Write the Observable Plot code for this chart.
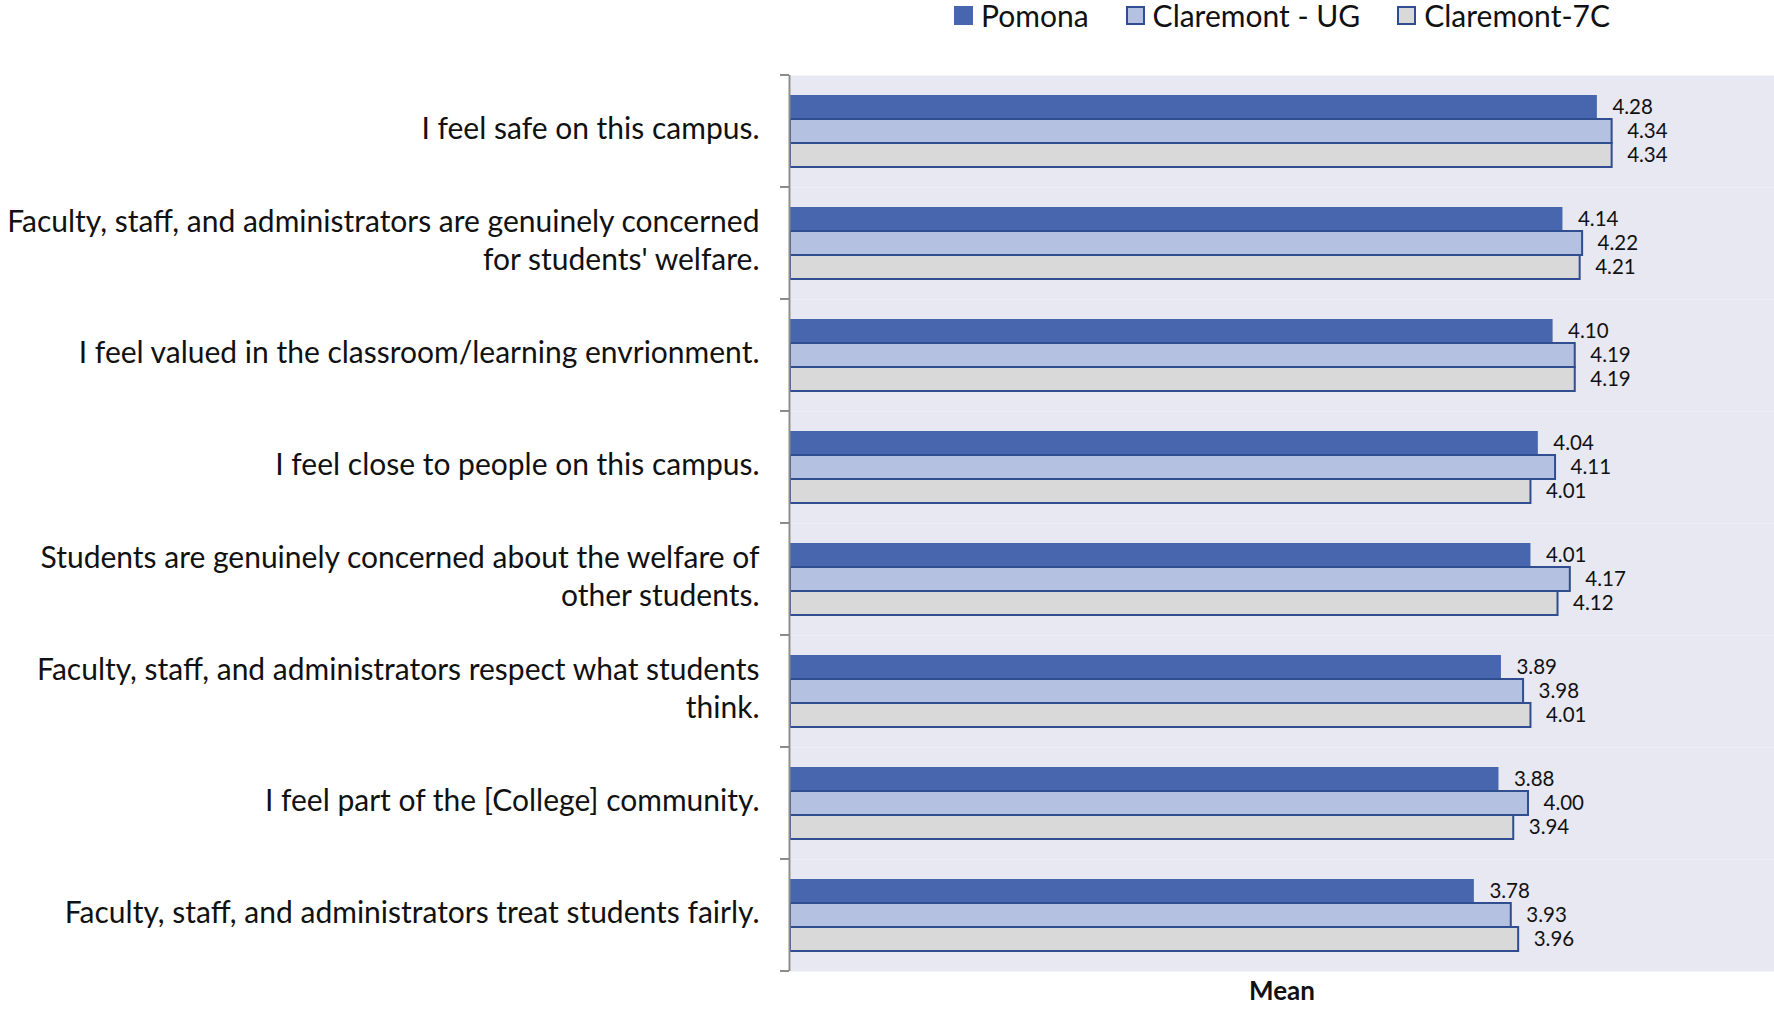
<!DOCTYPE html>
<html>
<head>
<meta charset="utf-8">
<script src="https://cdn.jsdelivr.net/npm/d3@7"></script>
<script src="https://cdn.jsdelivr.net/npm/@observablehq/plot@0.6"></script>
<style>
  html, body { margin: 0; padding: 0; background: #fff; }
  body { width: 1774px; height: 1009px; overflow: hidden; font-family: Lato, "Open Sans", sans-serif; }
  #legend { height: 30px; margin-left: 790px; width: 984px; display: flex; justify-content: center; align-items: center; gap: 37px; font-size: 30px; color: #111; }
  #legend .item { display: flex; align-items: center; gap: 8px; }
  #legend .sw { width: 19px; height: 19px; box-sizing: border-box; }
  #mean { margin-left: 790px; width: 984px; text-align: center; font-weight: bold; font-size: 26px; color: #111; line-height: 30px; }
</style>
</head>
<body>
<div id="legend"></div>
<div id="chart"></div>
<div id="mean">Mean</div>
<script>
const questions = [
  "I feel safe on this campus.",
  "Faculty, staff, and administrators are genuinely concerned\nfor students' welfare.",
  "I feel valued in the classroom/learning envrionment.",
  "I feel close to people on this campus.",
  "Students are genuinely concerned about the welfare of\nother students.",
  "Faculty, staff, and administrators respect what students\nthink.",
  "I feel part of the [College] community.",
  "Faculty, staff, and administrators treat students fairly."
];
const series = ["Pomona", "Claremont - UG", "Claremont-7C"];
const pomona      = [4.28, 4.14, 4.10, 4.04, 4.01, 3.89, 3.88, 3.78];
const claremontUG = [4.34, 4.22, 4.19, 4.11, 4.17, 3.98, 4.00, 3.93];
const claremont7C = [4.34, 4.21, 4.19, 4.01, 4.12, 4.01, 3.94, 3.96];
const xDomain = [1, 5];

const colors = ["#4866AD", "#B4C1E0", "#D9D9D9"];
const outline = "#2F4D8F";

const valuesBySeries = [pomona, claremontUG, claremont7C];
const data = [];
questions.forEach((q, i) => {
  series.forEach((s, j) => data.push({question: q, series: s, value: valuesBySeries[j][i]}));
});

// legend
const legend = document.getElementById("legend");
series.forEach((s, j) => {
  const item = document.createElement("div");
  item.className = "item";
  const sw = document.createElement("div");
  sw.className = "sw";
  sw.style.background = colors[j];
  sw.style.border = j === 0 ? "none" : `2px solid ${outline}`;
  const t = document.createElement("span");
  t.textContent = s;
  item.append(sw, t);
  legend.append(item);
});

const chart = Plot.plot({
  width: 1774,
  height: 945,
  marginTop: 45,
  marginBottom: 4,
  marginLeft: 790,
  marginRight: 0,
  style: {fontFamily: "Lato, 'Open Sans', sans-serif", background: "transparent"},
  x: {domain: xDomain, axis: null},
  y: {domain: series, axis: null, paddingInner: 0, paddingOuter: 0.74},
  fy: {domain: questions, padding: 0, axis: null},
  color: {domain: series, range: colors},
  marks: [
    Plot.frame({fill: "#E8E8F2", stroke: null}),
    Plot.axisFy({anchor: "left", tickSize: 0, tickPadding: 31, fontSize: 30, lineHeight: 1.28, dy: -5, label: null, fill: "#111"}),
    Plot.barX(data.filter(d => d.series === "Pomona"), {x1: xDomain[0], x2: "value", y: "series", fy: "question", fill: "series"}),
    Plot.barX(data.filter(d => d.series !== "Pomona"), {x1: xDomain[0], x2: "value", y: "series", fy: "question", fill: "series", stroke: outline, strokeWidth: 2}),
    Plot.text(data, {x: "value", y: "series", fy: "question", text: d => d.value.toFixed(2), textAnchor: "start", dx: 15, fontSize: 20.5, fill: "#111"}),
    Plot.ruleX([xDomain[0]], {stroke: "#8C8C8C", strokeWidth: 2, dx: -1})
  ]
});
document.getElementById("chart").append(chart);

// boundary ticks on the category axis (Excel style)
const fy = chart.scale("fy");
const xs = chart.scale("x");
const x0 = xs.apply(xDomain[0]) - 1;
const bounds = questions.map(q => fy.apply(q)).concat([fy.apply(questions[questions.length - 1]) + fy.bandwidth]);
d3.select(chart).append("g")
  .attr("stroke", "#8C8C8C").attr("stroke-width", 2)
  .selectAll("line").data(bounds).join("line")
  .attr("x1", x0 - 9).attr("x2", x0)
  .attr("y1", d => d).attr("y2", d => d);
</script>
</body>
</html>
